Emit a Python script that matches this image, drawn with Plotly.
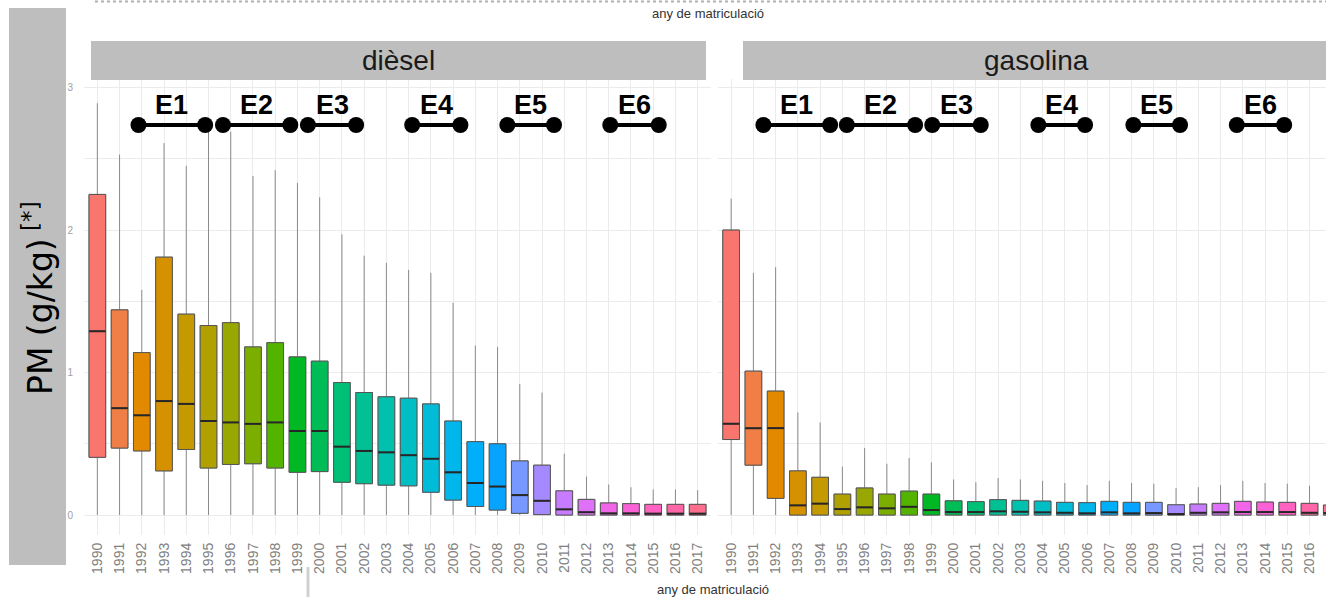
import math
import plotly.graph_objects as go

# ---------------- data ----------------
years = list(range(1990, 2018))

diesel_upper = [2.89, 2.53, 1.58, 2.61, 2.45, 2.72, 2.69, 2.38, 2.42, 2.33, 2.23, 1.97, 1.82, 1.77,
                1.72, 1.70, 1.49, 1.19, 1.18, 0.92, 0.86, 0.43, 0.27, 0.215, 0.195, 0.18, 0.18, 0.175]
diesel_q3 = [2.25, 1.44, 1.14, 1.81, 1.41, 1.33, 1.35, 1.18, 1.21, 1.11, 1.08, 0.93, 0.86, 0.83,
             0.82, 0.78, 0.66, 0.515, 0.50, 0.38, 0.35, 0.17, 0.11, 0.085, 0.08, 0.075, 0.075, 0.075]
diesel_median = [1.29, 0.75, 0.70, 0.80, 0.78, 0.66, 0.65, 0.64, 0.65, 0.59, 0.59, 0.48, 0.45, 0.44,
                 0.42, 0.395, 0.30, 0.225, 0.20, 0.14, 0.10, 0.04, 0.02, 0.012, 0.012, 0.01, 0.01, 0.01]
diesel_q1 = [0.405, 0.47, 0.45, 0.31, 0.46, 0.33, 0.355, 0.36, 0.33, 0.30, 0.305, 0.23, 0.22, 0.21,
             0.205, 0.16, 0.105, 0.06, 0.035, 0.012, 0.003, 0.0, 0.0, 0.0, 0.0, 0.0, 0.0, 0.0]
diesel_lower = [0.0] * 28

gas_upper = [2.22, 1.70, 1.74, 0.72, 0.65, 0.34, 0.47, 0.36, 0.40, 0.37, 0.25, 0.23, 0.26, 0.25,
             0.24, 0.225, 0.21, 0.24, 0.225, 0.22, 0.19, 0.195, 0.21, 0.24, 0.225, 0.22, 0.205, 0.20]
gas_q3 = [2.00, 1.01, 0.87, 0.31, 0.265, 0.147, 0.19, 0.147, 0.168, 0.147, 0.10, 0.094, 0.108, 0.103,
          0.098, 0.089, 0.087, 0.096, 0.089, 0.089, 0.072, 0.077, 0.082, 0.096, 0.091, 0.089, 0.082, 0.07]
gas_median = [0.64, 0.61, 0.61, 0.068, 0.08, 0.042, 0.054, 0.047, 0.058, 0.035, 0.021, 0.021, 0.026, 0.023,
              0.019, 0.016, 0.012, 0.019, 0.012, 0.014, 0.007, 0.016, 0.019, 0.021, 0.021, 0.021, 0.016, 0.014]
gas_q1 = [0.53, 0.35, 0.117, 0.0, 0.0, 0.0, 0.0, 0.0, 0.0, 0.0, 0.0, 0.0, 0.0, 0.0,
          0.0, 0.0, 0.0, 0.0, 0.0, 0.0, 0.0, 0.0, 0.0, 0.0, 0.0, 0.0, 0.0, 0.0]
gas_lower = [0.0] * 28

euro_labels = ["E1", "E2", "E3", "E4", "E5", "E6"]
diesel_euro_start = [1991.85, 1995.65, 1999.47, 2004.16, 2008.44, 2013.07]
diesel_euro_end = [1994.85, 1998.68, 2001.64, 2006.33, 2010.54, 2015.25]
gas_euro_start = [1991.45, 1995.20, 1999.04, 2003.81, 2008.08, 2012.73]
gas_euro_end = [1994.45, 1998.27, 2001.22, 2005.91, 2010.18, 2014.86]
euro_line_y = 2.737
euro_label_y = 2.875

panel_titles = ["dièsel", "gasolina"]
x_title = "any de matriculació"
y_title = "PM (g/kg)<sup> [*]</sup>"
y_ticks = [0, 1, 2, 3]


# ---------------- ggplot hue palette ----------------
def hcl_to_hex(h, c=100.0, l=65.0):
    Xn, Yn, Zn = 95.047, 100.0, 108.883
    un = 4 * Xn / (Xn + 15 * Yn + 3 * Zn)
    vn = 9 * Yn / (Xn + 15 * Yn + 3 * Zn)
    hr = math.radians(h)
    U, V = c * math.cos(hr), c * math.sin(hr)
    Y = Yn * ((l + 16) / 116) ** 3 if l > 8 else Yn * l / 903.3
    u = U / (13 * l) + un
    v = V / (13 * l) + vn
    X = 9.0 * Y * u / (4 * v)
    Z = -X / 3 - 5 * Y + 3 * Y / v
    X, Y, Z = X / 100, Y / 100, Z / 100
    r = 3.240479 * X - 1.537150 * Y - 0.498535 * Z
    g = -0.969256 * X + 1.875992 * Y + 0.041556 * Z
    b = 0.055648 * X - 0.204043 * Y + 1.057311 * Z

    def gam(t):
        t = 12.92 * t if t <= 0.0031308 else 1.055 * t ** (1 / 2.4) - 0.055
        return int(round(255 * min(1, max(0, t))))
    return "#%02X%02X%02X" % (gam(r), gam(g), gam(b))


n = len(years)
colors = [hcl_to_hex(15 + 360 * i / n) for i in range(n)]

W, H = 1326, 597


def fx(px):
    return px / W


def fy(py):
    return 1 - py / H


fig = go.Figure()

panels = [
    ("x", "y", diesel_lower, diesel_q1, diesel_median, diesel_q3, diesel_upper,
     diesel_euro_start, diesel_euro_end),
    ("x2", "y2", gas_lower, gas_q1, gas_median, gas_q3, gas_upper,
     gas_euro_start, gas_euro_end),
]

for xa, ya, lo, q1, med, q3, up, es, ee in panels:
    for i, yr in enumerate(years):
        # whiskers (lighter grey)
        fig.add_trace(go.Box(
            x=[yr], lowerfence=[lo[i]], q1=[q1[i]], median=[med[i]], q3=[q3[i]],
            upperfence=[up[i]], fillcolor="rgba(0,0,0,0)",
            line=dict(color="#8a8a8a", width=1), width=0.75, whiskerwidth=0,
            boxpoints=False, showlegend=False, xaxis=xa, yaxis=ya, hoverinfo="skip"))
        # box body (darker outline)
        fig.add_trace(go.Box(
            x=[yr], lowerfence=[q1[i]], q1=[q1[i]], median=[med[i]], q3=[q3[i]],
            upperfence=[q3[i]], fillcolor=colors[i],
            line=dict(color="#555555", width=1), width=0.75, whiskerwidth=0,
            boxpoints=False, showlegend=False, xaxis=xa, yaxis=ya, hoverinfo="skip"))
    # thicker median lines
    fig.add_trace(go.Scatter(
        x=years, y=med, mode="markers", xaxis=xa, yaxis=ya, showlegend=False,
        marker=dict(symbol="line-ew", size=11.8, line=dict(color="#262626", width=2)),
        hoverinfo="skip"))
    # Euro norm dumbbells
    for k in range(len(euro_labels)):
        fig.add_trace(go.Scatter(
            x=[es[k], ee[k]], y=[euro_line_y, euro_line_y], mode="lines+markers",
            xaxis=xa, yaxis=ya, showlegend=False, hoverinfo="skip",
            line=dict(color="black", width=4),
            marker=dict(color="black", size=16)))
        fig.add_annotation(
            x=(es[k] + ee[k]) / 2, y=euro_label_y, xref=xa, yref=ya, text="<b>%s</b>" % euro_labels[k],
            showarrow=False, font=dict(family="Liberation Sans, Arial", size=27, color="black"),
            xanchor="center", yanchor="middle")

grid = "#ebebeb"
tickfont = dict(family="Liberation Sans, Arial", size=14, color="#7f7f7f")
ydom = [fy(535), fy(79)]

fig.update_layout(
    width=W, height=H, margin=dict(l=0, r=0, t=0, b=0),
    paper_bgcolor="white", plot_bgcolor="white", boxmode="overlay",
    showlegend=False,
    xaxis=dict(domain=[fx(84), fx(711)], range=[1989.4, 2017.6], tickvals=years,
               ticktext=[str(y) for y in years], tickangle=-90, tickfont=tickfont,
               showgrid=True, gridcolor=grid, gridwidth=1, zeroline=False, ticks="",
               showline=False, ticklabelstandoff=4),
    xaxis2=dict(domain=[fx(717.8), 1.0], range=[1989.4, 2016.74], tickvals=years,
                ticktext=[str(y) for y in years], tickangle=-90, tickfont=tickfont,
                showgrid=True, gridcolor=grid, gridwidth=1, zeroline=False, ticks="",
                showline=False, ticklabelstandoff=4),
    yaxis=dict(domain=ydom, range=[-0.14, 3.06], tickvals=y_ticks, showgrid=True,
               gridcolor=grid, gridwidth=1, zeroline=False, ticks="",
               tickfont=dict(family="Liberation Sans, Arial", size=10, color="#a0a0a0"),
               minor=dict(dtick=0.5, showgrid=True, gridcolor=grid, gridwidth=1),
               ticklabelstandoff=10),
    yaxis2=dict(domain=ydom, range=[-0.14, 3.06], tickvals=y_ticks, showgrid=True,
                gridcolor=grid, gridwidth=1, zeroline=False, ticks="", showticklabels=False,
                minor=dict(dtick=0.5, showgrid=True, gridcolor=grid, gridwidth=1),
                anchor="x2"),
)

shapes = [
    # facet strips
    dict(type="rect", xref="paper", yref="paper", x0=fx(91), x1=fx(706), y0=fy(80), y1=fy(41),
         fillcolor="#bebebe", line=dict(width=0), layer="above"),
    dict(type="rect", xref="paper", yref="paper", x0=fx(743), x1=1.0, y0=fy(80), y1=fy(41),
         fillcolor="#bebebe", line=dict(width=0), layer="above"),
    # left grey title box
    dict(type="rect", xref="paper", yref="paper", x0=fx(9), x1=fx(66), y0=fy(565), y1=fy(8),
         fillcolor="#bebebe", line=dict(width=0), layer="above"),
    # top dotted rule
    dict(type="line", xref="paper", yref="paper", x0=fx(95), x1=1.0, y0=fy(1.5), y1=fy(1.5),
         line=dict(color="#b0b0b0", width=2, dash="dot")),
    # small grey vertical mark at the bottom
    dict(type="line", xref="paper", yref="paper", x0=fx(308), x1=fx(308), y0=fy(567), y1=0,
         line=dict(color="#d0d0d0", width=3)),
]
fig.update_layout(shapes=shapes)

txt = "Liberation Sans, Arial"
fig.add_annotation(x=fx(398.5), y=fy(60.5), xref="paper", yref="paper", text=panel_titles[0],
                   showarrow=False, font=dict(family=txt, size=28, color="#1a1a1a"),
                   xanchor="center", yanchor="middle")
fig.add_annotation(x=fx(1036), y=fy(60.5), xref="paper", yref="paper", text=panel_titles[1],
                   showarrow=False, font=dict(family=txt, size=28, color="#1a1a1a"),
                   xanchor="center", yanchor="middle")
fig.add_annotation(x=fx(708), y=fy(14), xref="paper", yref="paper", text=x_title,
                   showarrow=False, font=dict(family=txt, size=13, color="#333333"),
                   xanchor="center", yanchor="middle")
fig.add_annotation(x=fx(713), y=fy(589), xref="paper", yref="paper", text=x_title,
                   showarrow=False, font=dict(family=txt, size=13, color="#333333"),
                   xanchor="center", yanchor="middle")
fig.add_annotation(x=fx(38), y=fy(298), xref="paper", yref="paper", text=y_title,
                   showarrow=False, textangle=-90,
                   font=dict(family="DejaVu Sans, Liberation Sans", size=33, color="black"),
                   xanchor="center", yanchor="middle")

fig.write_html("out.html", config={"displayModeBar": False},
               post_script="document.body.style.margin='0';document.body.style.overflow='hidden';")
